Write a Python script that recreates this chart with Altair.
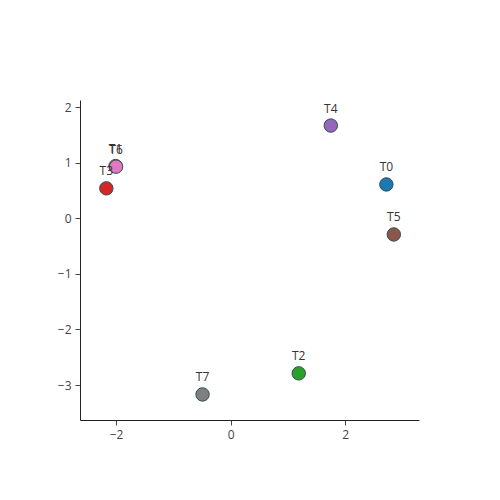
import altair as alt
import pandas as pd

labels = ["T0", "T1", "T2", "T3", "T4", "T5", "T6", "T7"]
xs = [2.72, -2.01, 1.19, -2.17, 1.75, 2.85, -2.0, -0.49]
ys = [0.61, 0.94, -2.79, 0.54, 1.67, -0.29, 0.93, -3.17]
colors = ["#1f77b4", "#ff7f0e", "#2ca02c", "#d62728", "#9467bd", "#8c564b", "#e377c2", "#7f7f7f"]

x_ticks = [-2, 0, 2]
y_ticks = [-3, -2, -1, 0, 1, 2]
x_domain = [-2.63, 3.29]
y_domain = [-3.63, 2.13]

df = pd.DataFrame({"label": labels, "x": xs, "y": ys, "color": colors, "order": list(range(len(labels)))})

font = "Open Sans"

xenc = alt.X("x:Q", scale=alt.Scale(domain=x_domain, nice=False, zero=False),
             axis=alt.Axis(values=x_ticks, format="d", title=None, grid=False, domainColor="#222",
                           tickColor="#444", labelColor="#444", labelFont=font, labelFontSize=12,
                           tickSize=5, labelPadding=4))
yenc = alt.Y("y:Q", scale=alt.Scale(domain=y_domain, nice=False, zero=False),
             axis=alt.Axis(values=y_ticks, format="d", title=None, grid=False, domainColor="#222",
                           tickColor="#444", labelColor="#444", labelFont=font, labelFontSize=12,
                           tickSize=5, labelPadding=4))

points = alt.Chart(df).mark_circle(size=180, opacity=1, stroke="#2F4F4F", strokeWidth=1).encode(
    x=xenc, y=yenc,
    color=alt.Color("color:N", scale=None),
    order="order:Q",
)

text = alt.Chart(df).mark_text(dy=-17, font=font, fontSize=12, color="#333").encode(
    x="x:Q", y="y:Q", text="label:N"
)

chart = (points + text).properties(
    width=339, height=320,
    autosize=alt.AutoSizeParams(type="none"),
    padding={"left": 72, "top": 92, "right": 60, "bottom": 60},
    background="white",
).configure_view(stroke=None)

chart.save("out.html", embed_options={"renderer": "svg", "actions": False})
